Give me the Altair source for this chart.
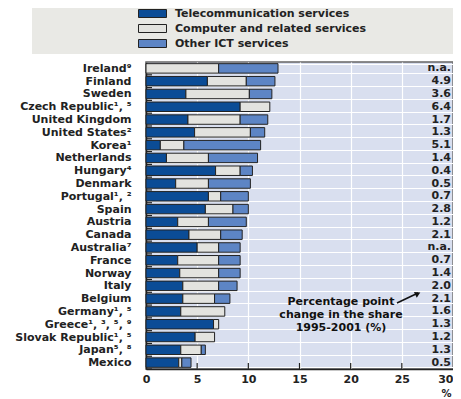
import altair as alt
import pandas as pd

countries = ["Ireland⁹", "Finland", "Sweden", "Czech Republic¹, ⁵", "United Kingdom",
             "United States²", "Korea¹", "Netherlands", "Hungary⁴", "Denmark",
             "Portugal¹, ²", "Spain", "Austria", "Canada", "Australia⁷", "France",
             "Norway", "Italy", "Belgium", "Germany¹, ⁵", "Greece¹, ³, ⁵, ⁹",
             "Slovak Republic¹, ⁵", "Japan⁵, ⁸", "Mexico"]
telecom = [0, 6.0, 3.9, 9.2, 4.1, 4.75, 1.4, 2.0, 6.8, 2.9, 6.1, 5.8, 3.1, 4.2, 5.0,
           3.1, 3.3, 3.6, 3.6, 3.4, 6.6, 4.8, 3.4, 3.2]
computer = [7.1, 3.8, 6.2, 2.9, 5.1, 5.45, 2.3, 4.1, 2.4, 3.2, 1.2, 2.7, 3.0, 3.1, 2.1,
            4.0, 3.8, 3.5, 3.1, 4.3, 0.5, 1.9, 2.0, 0.3]
other = [5.8, 2.8, 2.2, 0, 2.7, 1.4, 7.5, 4.8, 1.2, 4.1, 2.7, 1.5, 3.7, 2.1, 2.1,
         2.1, 2.1, 1.8, 1.5, 0, 0, 0, 0.4, 0.9]
change = ["n.a.", "4.9", "3.6", "6.4", "1.7", "1.3", "5.1", "1.4", "0.4", "0.5", "0.7",
          "2.8", "1.2", "2.1", "n.a.", "0.7", "1.4", "2.0", "2.1", "1.6", "1.3", "1.2",
          "1.3", "0.5"]
series = ["Telecommunication services", "Computer and related services", "Other ICT services"]
colors = ["#0b4c96", "#e3e3df", "#5d85c5"]
x_ticks = [0, 5, 10, 15, 20, 25, 30]
inner_ticks = [5, 10, 15, 20, 25]

FONT = "DejaVu Sans"
FW = "bold"
FS = 11
W = 307
H = 307

rows = []
for i, c in enumerate(countries):
    for k, (s, vals) in enumerate(zip(series, [telecom, computer, other])):
        if vals[i] > 0:
            rows.append({"country": c, "series": s, "value": vals[i], "order": k})
bars_df = pd.DataFrame(rows)
labels_df = pd.DataFrame({"country": countries, "change": change})
ticks_df = pd.DataFrame({"t": inner_ticks})
one = pd.DataFrame({"a": [0]})

xscale = alt.Scale(domain=[0, 30], nice=False)
yscale = alt.Scale(paddingInner=0.26, paddingOuter=0.13)
xaxis = alt.Axis(values=x_ticks, title="%", grid=True, gridColor="white",
                 gridWidth=1.2, ticks=False, labelPadding=4, domainColor="#222",
                 domainWidth=1.5, labelFont=FONT, labelFontSize=FS, labelFontWeight=FW,
                 labelColor="#222",
                 labelAlign={"condition": {"test": "datum.value == 30", "value": "right"},
                             "value": "center"},
                 titleFont=FONT, titleFontSize=10,
                 titleFontWeight=FW, titleColor="#222",
                 titleX=W - 7, titleY=24, titleBaseline="middle",
                 titleAlign="center")
yaxis = alt.Axis(title=None, ticks=False, labelPadding=15, grid=True,
                 gridColor="white", gridWidth=1.2, tickBand="extent",
                 domainColor="#222", domainWidth=1.5, labelFont=FONT,
                 labelFontSize=FS, labelFontWeight=FW, labelColor="#222", labelLimit=0)


def Y(**kw):
    return alt.Y("country:N", sort=countries, scale=yscale, axis=yaxis, **kw)


legend_box = alt.Chart(one).mark_rect(color="#e9e9e5").encode(
    x=alt.value(-114), x2=alt.value(W + 3), y=alt.value(-54), y2=alt.value(-8)
)

bars = alt.Chart(bars_df).mark_bar(stroke="#222222", strokeWidth=1).encode(
    x=alt.X("value:Q", stack="zero", scale=xscale, axis=xaxis),
    y=Y(),
    color=alt.Color("series:N", scale=alt.Scale(domain=series, range=colors),
                    legend=alt.Legend(title=None, orient="none", legendX=1, legendY=-54,
                                      symbolType="M-3.5,-1H3.5V1H-3.5Z", symbolSize=64,
                                      symbolStrokeColor="#222", symbolStrokeWidth=1,
                                      symbolOpacity=1, labelFont=FONT, labelFontSize=FS,
                                      labelFontWeight=FW, labelColor="#222",
                                      labelOffset=17, rowPadding=2,
                                      padding=0, labelLimit=0)),
    order=alt.Order("order:Q"),
)

row_ticks = alt.Chart(labels_df).mark_rule(color="#222", strokeWidth=1.2, yOffset=1.7).encode(
    x=alt.value(0), x2=alt.value(6),
    y=Y(bandPosition=1),
)

bottom_ticks = alt.Chart(ticks_df).mark_rule(color="#222", strokeWidth=1.2).encode(
    x=alt.X("t:Q", scale=xscale, axis=xaxis),
    y=alt.value(H - 6), y2=alt.value(H),
)

values = alt.Chart(labels_df).mark_text(align="right", font=FONT, fontSize=FS,
                                        fontWeight=FW, color="#222").encode(
    x=alt.value(W - 2),
    y=Y(),
    text="change:N",
)

note = alt.Chart(one).mark_text(
    text="Percentage point\nchange in the share\n1995-2001 (%)", lineBreak="\n",
    lineHeight=12.8, font=FONT, fontSize=FS, fontWeight=FW, color="#111",
    align="center", baseline="middle").encode(x=alt.value(195), y=alt.value(240))

arrow_line = alt.Chart(one).mark_rule(color="#111", strokeWidth=1.5).encode(
    x=alt.value(251), y=alt.value(241), x2=alt.value(272), y2=alt.value(231))
arrow_head = alt.Chart(one).mark_point(shape="triangle", filled=True, size=40,
                                       color="#111", opacity=1, angle=64).encode(
    x=alt.value(271), y=alt.value(232))

chart = alt.layer(legend_box, bars, row_ticks, bottom_ticks, values, note,
                  arrow_line, arrow_head).properties(
    width=W, height=H, autosize="none",
    padding={"left": 138, "top": 54, "right": 0, "bottom": 30},
).configure_view(fill="#d9dfef", stroke="#666", strokeWidth=1.5)

chart.save("out.html", embed_options={"renderer": "svg", "actions": False})
